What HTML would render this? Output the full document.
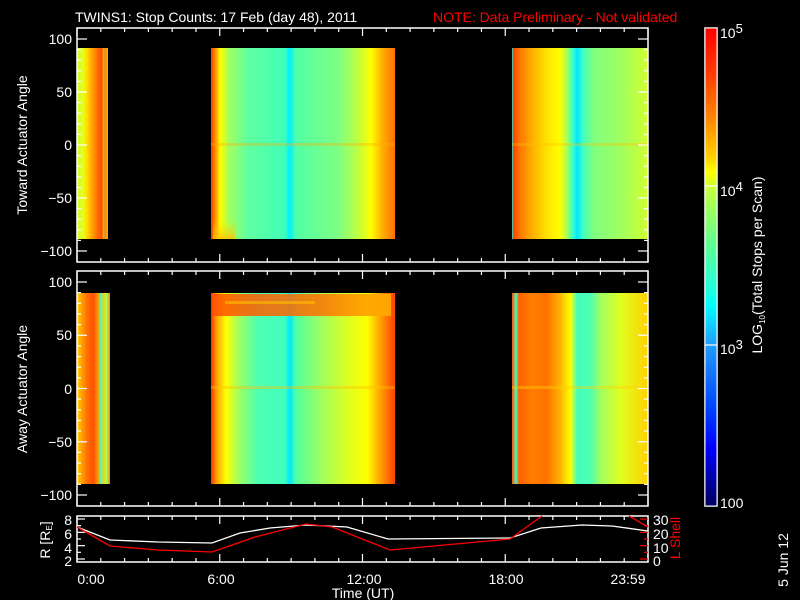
<!DOCTYPE html>
<html><head><meta charset="utf-8"><style>
body{margin:0;background:#000;width:800px;height:600px;overflow:hidden}
svg{display:block}
text{font-family:"Liberation Sans",sans-serif;fill:#fff;font-size:14px}
</style></head><body>
<svg id="s" width="800" height="600" xmlns="http://www.w3.org/2000/svg">
<defs>
<linearGradient id="t1" x1="0" x2="1" y1="0" y2="0">
<stop offset="0" stop-color="#c8ff30"/><stop offset=".2" stop-color="#e8ff20"/><stop offset=".3" stop-color="#ffe000"/><stop offset=".5" stop-color="#ffa000"/><stop offset=".7" stop-color="#ff6000"/><stop offset=".8" stop-color="#ff5000"/><stop offset=".84" stop-color="#ff9000"/><stop offset=".86" stop-color="#40ffc0"/><stop offset=".89" stop-color="#ff8000"/><stop offset="1" stop-color="#ffb000"/></linearGradient>
<linearGradient id="t2" x1="0" x2="1" y1="0" y2="0">
<stop offset="0" stop-color="#ff4000"/><stop offset=".02" stop-color="#ff8000"/><stop offset=".05" stop-color="#ffff00"/><stop offset=".1" stop-color="#a0ff60"/><stop offset=".2" stop-color="#60ffa0"/><stop offset=".4" stop-color="#40ffb8"/><stop offset=".43" stop-color="#00f0ff"/><stop offset=".46" stop-color="#50ffa8"/><stop offset=".7" stop-color="#80ff80"/><stop offset=".8" stop-color="#c0ff40"/><stop offset=".87" stop-color="#ffff00"/><stop offset=".93" stop-color="#ffb000"/><stop offset="1" stop-color="#ff7000"/></linearGradient>
<linearGradient id="t3" x1="0" x2="1" y1="0" y2="0">
<stop offset="0" stop-color="#00ffff"/><stop offset=".01" stop-color="#ff4000"/><stop offset=".05" stop-color="#ff7000"/><stop offset=".15" stop-color="#ffb000"/><stop offset=".25" stop-color="#ffe000"/><stop offset=".35" stop-color="#ffff00"/><stop offset=".4" stop-color="#b0ff50"/><stop offset=".45" stop-color="#30ffd0"/><stop offset=".48" stop-color="#00e8ff"/><stop offset=".52" stop-color="#40ffc0"/><stop offset=".6" stop-color="#80ff80"/><stop offset=".8" stop-color="#a0ff60"/><stop offset="1" stop-color="#d0ff30"/></linearGradient>
<linearGradient id="b1" x1="0" x2="1" y1="0" y2="0">
<stop offset="0" stop-color="#ffd000"/><stop offset=".15" stop-color="#ffa000"/><stop offset=".3" stop-color="#ff7000"/><stop offset=".5" stop-color="#ff5000"/><stop offset=".65" stop-color="#ffa000"/><stop offset=".72" stop-color="#40ffd0"/><stop offset=".8" stop-color="#ffd000"/><stop offset=".9" stop-color="#a0ff60"/><stop offset="1" stop-color="#ff8000"/></linearGradient>
<linearGradient id="b2" x1="0" x2="1" y1="0" y2="0">
<stop offset="0" stop-color="#ff3000"/><stop offset=".03" stop-color="#ffa000"/><stop offset=".08" stop-color="#ffff00"/><stop offset=".15" stop-color="#a0ff60"/><stop offset=".25" stop-color="#50ffb0"/><stop offset=".4" stop-color="#40ffc0"/><stop offset=".43" stop-color="#00e8ff"/><stop offset=".46" stop-color="#50ffa0"/><stop offset=".6" stop-color="#a0ff60"/><stop offset=".75" stop-color="#e0ff20"/><stop offset=".85" stop-color="#ffff00"/><stop offset=".92" stop-color="#ffa000"/><stop offset="1" stop-color="#ff4000"/></linearGradient>
<linearGradient id="b3" x1="0" x2="1" y1="0" y2="0">
<stop offset="0" stop-color="#ff5000"/><stop offset=".03" stop-color="#40ffc0"/><stop offset=".05" stop-color="#ff6000"/><stop offset=".15" stop-color="#ff8000"/><stop offset=".25" stop-color="#ff7000"/><stop offset=".35" stop-color="#ffb000"/><stop offset=".43" stop-color="#ffff00"/><stop offset=".48" stop-color="#40ffc0"/><stop offset=".58" stop-color="#50ffb0"/><stop offset=".65" stop-color="#a0ff60"/><stop offset=".8" stop-color="#e0ff20"/><stop offset="1" stop-color="#ffd000"/></linearGradient>
<linearGradient id="cb" x1="0" x2="0" y1="0" y2="1">
<stop offset="0" stop-color="#ff0000"/><stop offset=".1" stop-color="#ff4000"/><stop offset=".2" stop-color="#ff9000"/><stop offset=".27" stop-color="#ffd000"/><stop offset=".3" stop-color="#ffff00"/><stop offset=".34" stop-color="#c0ff40"/><stop offset=".45" stop-color="#60ff90"/><stop offset=".55" stop-color="#20ffe0"/><stop offset=".58" stop-color="#00ffff"/><stop offset=".66" stop-color="#20a0ff"/><stop offset=".8" stop-color="#0040ff"/><stop offset=".88" stop-color="#0000ff"/><stop offset=".96" stop-color="#000090"/><stop offset="1" stop-color="#000060"/></linearGradient>
<linearGradient id="ov" x1="0" x2="0" y1="0" y2="1"><stop offset="0" stop-color="#ffe000" stop-opacity="0"/><stop offset="1" stop-color="#ffc000" stop-opacity=".8"/></linearGradient>
<linearGradient id="band" x1="0" x2="1" y1="0" y2="0"><stop offset="0" stop-color="#ff5000"/><stop offset=".6" stop-color="#ff7000"/><stop offset="1" stop-color="#ffb000"/></linearGradient>
</defs>
<rect x="77" y="48" width="31" height="191" fill="url(#t1)"/>
<rect x="211" y="48" width="184" height="191" fill="url(#t2)"/>
<rect x="213" y="220" width="22" height="19" fill="url(#ov)"/>
<rect x="512" y="48" width="136" height="191" fill="url(#t3)"/>
<rect x="211" y="143" width="184" height="3" fill="#ffb000" opacity=".35"/>
<rect x="512" y="143" width="136" height="3" fill="#ffc000" opacity=".35"/>
<rect x="77" y="293" width="33" height="191" fill="url(#b1)"/>
<rect x="211" y="293" width="184" height="191" fill="url(#b2)"/>
<rect x="213" y="294" width="178" height="22" fill="url(#band)" opacity=".85"/>
<rect x="225" y="301" width="90" height="3" fill="#ffc000" opacity=".6"/>
<rect x="211" y="386" width="184" height="3" fill="#ffc000" opacity=".4"/>
<rect x="512" y="293" width="136" height="191" fill="url(#b3)"/>
<rect x="512" y="386" width="136" height="3" fill="#ffd000" opacity=".4"/>
<g fill="none" stroke="#fff" stroke-width="1.5">
<rect x="77" y="28" width="571" height="234"/>
<rect x="77" y="271" width="571" height="235"/>
<rect x="77" y="516" width="571" height="46"/>
<rect x="705" y="28" width="12" height="478"/>
</g>
<rect x="705.5" y="28.5" width="11" height="477" fill="url(#cb)"/>
<g id="ticks" stroke="#fff" stroke-width="1.2"></g>
<polyline fill="none" stroke="#fff" stroke-width="1.3" points="77,527 110,540 158,542 212,543 240,533 270,528 306,525 347,527 388,539 510,538 541,528 582,525 612,526 648,531"/>
<polyline fill="none" stroke="#f00" stroke-width="1.3" points="77,527 110,546 158,550 212,552 255,537 306,524 332,527 390,550 510,539 542,516"/>
<polyline fill="none" stroke="#f00" stroke-width="1.3" points="629,516 648,527"/>
<text x="75" y="22" font-size="15">TWINS1: Stop Counts: 17 Feb (day  48), 2011</text>
<text x="433" y="22" font-size="15" style="fill:#f00">NOTE: Data Preliminary - Not validated</text>
<g text-anchor="end">
<text x="72" y="44">100</text><text x="72" y="97">50</text><text x="72" y="150">0</text><text x="72" y="203">−50</text><text x="72" y="256">−100</text>
<text x="72" y="287">100</text><text x="72" y="340">50</text><text x="72" y="394">0</text><text x="72" y="447">−50</text><text x="72" y="500">−100</text>
<text x="72" y="525" font-size="13">8</text><text x="72" y="539" font-size="13">6</text><text x="72" y="553" font-size="13">4</text><text x="72" y="566" font-size="13">2</text>
</g>
<g font-size="13" style="fill:#f00">
<text x="653" y="525">30</text><text x="653" y="539">20</text><text x="653" y="553">10</text><text x="653" y="566">0</text>
</g>
<text transform="translate(27,145) rotate(-90)" text-anchor="middle">Toward Actuator Angle</text>
<text transform="translate(27,389) rotate(-90)" text-anchor="middle">Away Actuator Angle</text>
<text transform="translate(50,540) rotate(-90)" text-anchor="middle" font-size="13">R [R<tspan font-size="8" dy="2">E</tspan><tspan dy="-2">]</tspan></text>
<text transform="translate(680,538) rotate(-90)" text-anchor="middle" font-size="13" style="fill:#f00">L Shell</text>
<g text-anchor="middle">
<text x="91" y="584">0:00</text><text x="221" y="584">6:00</text><text x="364" y="584">12:00</text><text x="506" y="584">18:00</text><text x="628" y="584">23:59</text>
<text x="363" y="598">Time (UT)</text>
</g>
<text x="720" y="38" font-size="9">10<tspan font-size="13" dy="-5">5</tspan></text>
<text x="720" y="196" font-size="9">10<tspan font-size="13" dy="-5">4</tspan></text>
<text x="720" y="354" font-size="9">10<tspan font-size="13" dy="-5">3</tspan></text>
<text x="720" y="508">100</text>
<text transform="translate(762,265) rotate(-90)" text-anchor="middle" font-size="13">LOG<tspan font-size="8" dy="3">10</tspan><tspan dy="-3">(Total Stops per Scan)</tspan></text>
<text transform="translate(788,560) rotate(-90)" text-anchor="middle" font-size="10">5 Jun 12</text>
</svg>
<script>
var g=document.getElementById('ticks'),s='';
function L(a,b,c,d,col){s+='<line x1="'+a+'" y1="'+b+'" x2="'+c+'" y2="'+d+'"'+(col?' stroke="'+col+'"':'')+'/>';}
var panels=[[28,262],[271,506],[516,562]];
for(var i=0;i<=24;i++){var x=77+i*571/24,m=(i%6==0)?8:4;panels.forEach(function(p){L(x,p[0],x,p[0]+m);L(x,p[1],x,p[1]-m);});}
[[39,251],[282,495]].forEach(function(p){var top=p[0],bot=p[1];for(var v=-100;v<=100;v+=10){var y=bot-(v+100)*(bot-top)/200;var big=(v%50==0);L(77,y,77+(big?10:4),y);L(648,y,648-(big?10:4),y);}});
for(var r=2;r<=8;r++){var y=559-(r-2)*(559-519)/6;L(77,y,77+((r%2==0)?8:4),y);}
for(var l=0;l<=30;l+=5){var y=559-l*(559-519)/30;L(648,y,648-((l%10==0)?8:4),y,'#f00');}
L(705,186,717,186,'#fff');L(705,345,717,345,'#fff');
g.innerHTML=s;
</script>
</body></html>
